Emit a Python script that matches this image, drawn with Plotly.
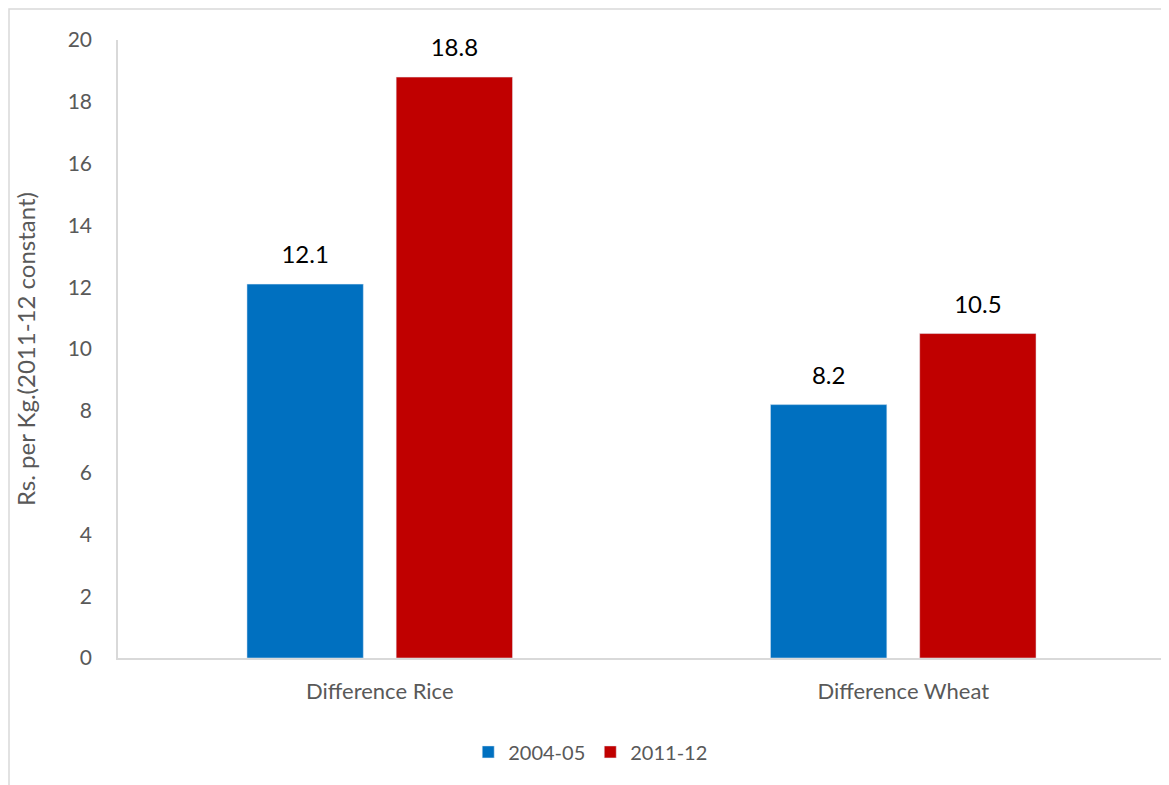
import plotly.graph_objects as go

categories = ["Difference Rice", "Difference Wheat"]
series_names = ["2004-05", "2011-12"]
values_2004 = [12.1, 8.2]
values_2011 = [18.8, 10.5]
colors = ["#0070C0", "#C00000"]
y_ticks = [0, 2, 4, 6, 8, 10, 12, 14, 16, 18, 20]

FONT = "Lato, Open Sans, sans-serif"
W, H = 1161, 777
L, R, T, B = 110, 4, 32, 127

fig = go.Figure()
for i, (name, vals, col) in enumerate(zip(series_names, [values_2004, values_2011], colors)):
    fig.add_trace(go.Bar(
        x=categories, y=vals, name=name, marker_color=col, offsetgroup=f"g{i}",
    ))
for i, (name, vals) in enumerate(zip(series_names, [values_2004, values_2011])):
    fig.add_trace(go.Scatter(
        x=categories, y=vals, mode="markers+text", showlegend=False,
        offsetgroup=f"g{i}", hoverinfo="skip",
        marker=dict(size=22, opacity=0),
        text=[f"{v:.1f}" for v in vals], textposition="top center",
        textfont=dict(size=24, color="#000000", family=FONT),
        cliponaxis=False,
    ))

fig.update_layout(
    width=W, height=H,
    margin=dict(l=L, r=R, t=T, b=B, autoexpand=False),
    paper_bgcolor="white", plot_bgcolor="white",
    barmode="group", bargap=0.43, bargroupgap=0.22,
    scattermode="group", scattergap=0.43,
    font=dict(family=FONT, color="#595959", size=16),
    showlegend=True,
    legend=dict(orientation="h", x=0.4515, xanchor="center", y=-0.152, yanchor="middle",
                font=dict(size=20, color="#595959"), itemwidth=30, traceorder="normal"),
    xaxis=dict(showline=True, linecolor="#D9D9D9", linewidth=1.5, ticks="",
               ticklabelstandoff=13, tickfont=dict(size=22, color="#595959"),
               showgrid=False, zeroline=False, automargin=False),
    yaxis=dict(range=[0, 20], tickvals=y_ticks, showline=True, linecolor="#D9D9D9",
               linewidth=1.5, ticks="", showgrid=False, zeroline=False, automargin=False,
               ticklabelstandoff=20, tickfont=dict(size=21, color="#595959"),
               title=dict(text="Rs. per Kg.(2011-12 constant)", standoff=25,
                          font=dict(size=24, color="#595959"))),
    shapes=[dict(type="rect", xref="paper", yref="paper",
                 x0=(-L + 1) / (W - L - R), x1=1.2, y0=-0.4,
                 y1=1 + (T - 1) / (H - T - B),
                 line=dict(color="#D9D9D9", width=1.5), layer="below")],
)

fig.write_html("out.html")
